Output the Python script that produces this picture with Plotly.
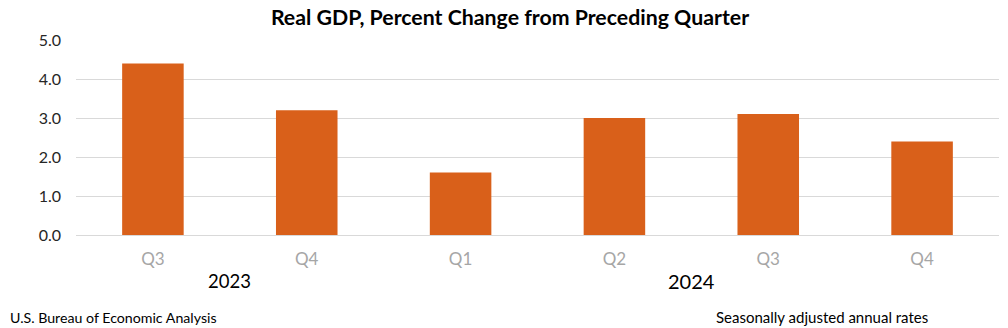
import plotly.graph_objects as go

# Real GDP growth, seasonally adjusted annual rates
quarters = ["Q3", "Q4", "Q1", "Q2", "Q3", "Q4"]
years = ["2023", "2023", "2024", "2024", "2024", "2024"]
gdp_change = [4.4, 3.2, 1.6, 3.0, 3.1, 2.4]
y_ticks = [0, 1, 2, 3, 4, 5]
y_tick_labels = ["0.0", "1.0", "2.0", "3.0", "4.0", "5.0"]

positions = list(range(len(quarters)))

FONT = "Lato, Calibri, Carlito, sans-serif"

W, H = 1008, 328
ML, MR, MT, MB = 76, 9, 40, 93
pw, ph = W - ML - MR, H - MT - MB


def px_x(x):
    return (x - ML) / pw


def px_y(y):
    return (H - MB - y) / ph


fig = go.Figure(
    go.Bar(
        x=positions,
        y=gdp_change,
        marker=dict(color="#D9601A", line=dict(width=0)),
        width=0.4,
        hoverinfo="y",
    )
)

# Year labels centered beneath each group of quarters
year_groups = {}
for pos, yr in zip(positions, years):
    year_groups.setdefault(yr, []).append(pos)
year_sizes = {"2023": 18.5, "2024": 20}
for yr, pos_list in year_groups.items():
    fig.add_annotation(
        x=sum(pos_list) / len(pos_list),
        xref="x",
        y=px_y(281),
        yref="paper",
        text=yr,
        showarrow=False,
        font=dict(family=FONT, size=year_sizes[yr], color="#000000"),
        yanchor="middle",
    )

fig.add_annotation(
    x=px_x(8), xref="paper", xanchor="left",
    y=px_y(317), yref="paper", yanchor="middle",
    text="U.S. Bureau of Economic Analysis",
    showarrow=False,
    font=dict(family=FONT, size=14.2, color="#000000"),
)
fig.add_annotation(
    x=px_x(930), xref="paper", xanchor="right",
    y=px_y(317), yref="paper", yanchor="middle",
    text="Seasonally adjusted annual rates",
    showarrow=False,
    font=dict(family=FONT, size=15, color="#000000"),
)

fig.update_layout(
    width=W,
    height=H,
    margin=dict(l=ML, r=MR, t=MT, b=MB),
    paper_bgcolor="white",
    plot_bgcolor="white",
    showlegend=False,
    bargap=0.6,
    title=dict(
        text="<b>Real GDP, Percent Change from Preceding Quarter</b>",
        x=510 / W,
        xanchor="center",
        y=1 - 18 / H,
        yanchor="middle",
        font=dict(family=FONT, size=21.3, color="#000000"),
    ),
    xaxis=dict(
        tickmode="array",
        tickvals=positions,
        ticktext=quarters,
        range=[-0.5, len(quarters) - 0.5],
        showgrid=False,
        zeroline=False,
        showline=False,
        ticks="",
        ticklabelstandoff=12,
        tickfont=dict(family=FONT, size=17, color="#A6A6A6"),
        fixedrange=True,
    ),
    yaxis=dict(
        range=[0, 5],
        tickmode="array",
        tickvals=y_ticks,
        ticktext=y_tick_labels,
        showgrid=True,
        gridcolor="#D9D9D9",
        gridwidth=1,
        zeroline=True,
        zerolinecolor="#D9D9D9",
        zerolinewidth=1,
        showline=False,
        ticks="",
        ticklabelstandoff=14,
        tickfont=dict(family=FONT, size=16, color="#262626"),
        fixedrange=True,
    ),
)

fig.write_html("out.html")
